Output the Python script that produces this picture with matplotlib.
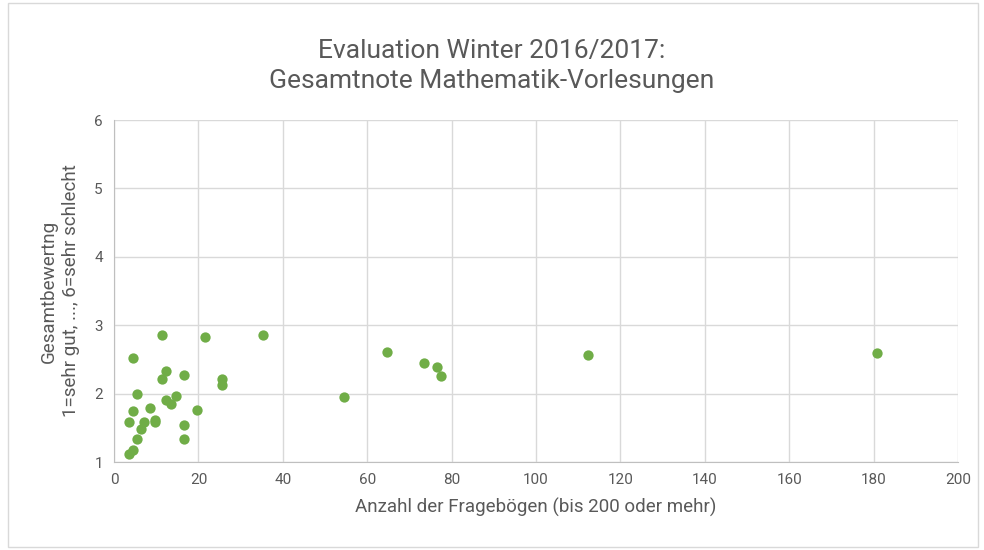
import matplotlib.pyplot as plt
from matplotlib.patches import Rectangle

# Anzahl Fragebögen und Gesamtnote je Vorlesung
anzahl = [11.4, 21.5, 35.2, 4.5, 12.4, 11.3, 16.5, 25.7, 25.7, 5.5,
          14.7, 12.3, 13.6, 8.6, 19.6, 4.5, 3.6, 7.2, 9.6, 9.7,
          6.4, 16.5, 5.5, 16.5, 4.5, 3.6,
          54.5, 64.7, 73.4, 76.6, 77.4, 112.3, 180.7]
note = [2.86, 2.83, 2.86, 2.52, 2.33, 2.21, 2.27, 2.21, 2.13, 1.99,
        1.96, 1.91, 1.85, 1.79, 1.76, 1.74, 1.59, 1.59, 1.61, 1.58,
        1.48, 1.54, 1.34, 1.34, 1.18, 1.12,
        1.95, 2.61, 2.45, 2.39, 2.26, 2.56, 2.59]

x_ticks = list(range(0, 201, 20))
y_ticks = [1, 2, 3, 4, 5, 6]

plt.rcParams['font.family'] = ['Roboto', 'DejaVu Sans']
grau = '#595959'

fig = plt.figure(figsize=(9.84, 5.5), dpi=100)
fig.patches.append(Rectangle((0.008, 0.006), 0.986, 0.988, transform=fig.transFigure,
                             fill=False, edgecolor='#d9d9d9', linewidth=1))
ax = fig.add_axes([0.1159, 0.16, 0.8577, 0.6218])

ax.scatter(anzahl, note, s=55, color='#70ad47', zorder=3, linewidths=0)

ax.set_xlim(0, 200)
ax.set_ylim(1, 6)
ax.set_xticks(x_ticks)
ax.set_yticks(y_ticks)
ax.grid(True, color='#d9d9d9', linewidth=1)
ax.set_axisbelow(True)
ax.tick_params(length=0, labelsize=11, labelcolor=grau, pad=8)
for s in ['top', 'right']:
    ax.spines[s].set_visible(False)
for s in ['left', 'bottom']:
    ax.spines[s].set_color('#bfbfbf')

ax.set_xlabel('Anzahl der Fragebögen (bis 200 oder mehr)', fontsize=13.5, color=grau, labelpad=8)
ax.set_ylabel('Gesamtbewertng\n1=sehr gut, ..., 6=sehr schlecht', fontsize=13.5, color=grau,
              labelpad=10, linespacing=1.35)
fig.text(0.5, 0.88, 'Evaluation Winter 2016/2017:\nGesamtnote Mathematik-Vorlesungen',
         ha='center', va='center', fontsize=19, color=grau, linespacing=1.3)

plt.savefig('out.png', dpi=100)
